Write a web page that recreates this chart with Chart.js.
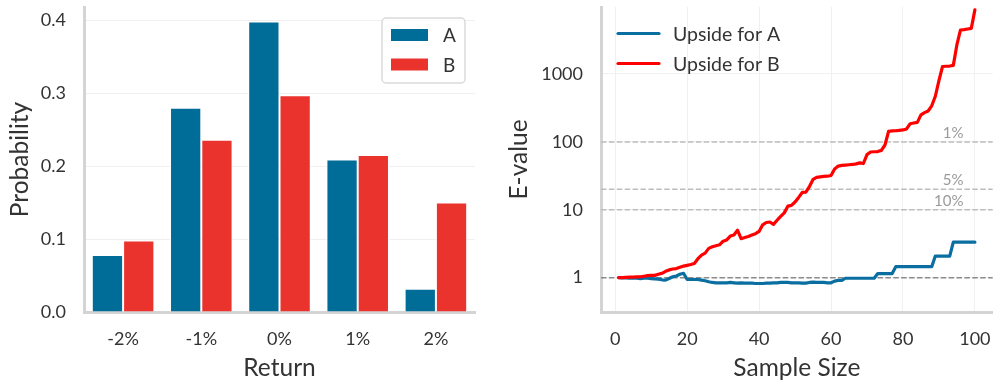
<!DOCTYPE html>
<html>
<head>
<meta charset="utf-8">
<script src="https://cdn.jsdelivr.net/npm/chart.js@4/dist/chart.umd.min.js"></script>
<style>
  html, body { margin: 0; padding: 0; background: #ffffff; }
  #wrap { position: relative; width: 1000px; height: 390px; }
  .box { position: absolute; top: 0; width: 500px; height: 390px; }
  #leftBox { left: 0; }
  #rightBox { left: 500px; }
</style>
</head>
<body>
<div id="wrap">
  <div class="box" id="leftBox"><canvas id="left" width="500" height="390"></canvas></div>
  <div class="box" id="rightBox"><canvas id="right" width="500" height="390"></canvas></div>
</div>
<script>
// ---------- Data: left panel (return distribution) ----------
const returnCategories = ['-2%', '-1%', '0%', '1%', '2%'];
const probA = [0.078, 0.280, 0.398, 0.209, 0.032];
const probB = [0.098, 0.236, 0.297, 0.215, 0.150];
const probTicks = [0.0, 0.1, 0.2, 0.3, 0.4];

// ---------- Data: right panel (e-values vs sample size) ----------
const sampleSize = [1,2,3,4,5,6,7,8,9,10,11,12,13,14,15,16,17,18,19,20,
  21,22,23,24,25,26,27,28,29,30,31,32,33,34,35,36,37,38,39,40,
  41,42,43,44,45,46,47,48,49,50,51,52,53,54,55,56,57,58,59,60,
  61,62,63,64,65,66,67,68,69,70,71,72,73,74,75,76,77,78,79,80,
  81,82,83,84,85,86,87,88,89,90,91,92,93,94,95,96,97,98,99,100];
const upsideA = [1.00,0.99,0.99,0.98,0.98,0.98,0.97,0.98,0.98,0.97,
  0.96,0.95,0.93,0.92,0.97,1.03,1.06,1.12,1.16,0.94,
  0.94,0.94,0.94,0.92,0.90,0.87,0.85,0.84,0.84,0.84,
  0.84,0.85,0.84,0.83,0.84,0.83,0.83,0.83,0.82,0.82,
  0.82,0.83,0.83,0.84,0.84,0.85,0.85,0.85,0.84,0.84,
  0.84,0.83,0.83,0.85,0.86,0.85,0.85,0.85,0.84,0.84,
  0.89,0.91,0.91,0.98,0.98,0.98,0.98,0.98,0.98,0.98,
  0.98,0.98,1.15,1.15,1.15,1.15,1.15,1.45,1.45,1.45,
  1.45,1.45,1.45,1.45,1.45,1.45,1.45,1.45,2.08,2.08,
  2.08,2.08,2.08,3.33,3.33,3.33,3.33,3.33,3.33,3.33];
const upsideB = [1.00,1.00,1.01,1.02,1.02,1.03,1.03,1.05,1.07,1.08,
  1.08,1.12,1.16,1.24,1.30,1.34,1.36,1.42,1.48,1.52,
  1.56,1.62,1.90,2.15,2.30,2.70,2.85,2.95,3.05,3.45,
  3.60,4.10,4.25,5.00,3.75,3.90,4.05,4.25,4.45,4.80,
  6.00,6.50,6.60,6.10,7.00,8.00,9.00,11.3,11.6,13.0,
  15.2,18.0,18.2,22.0,28.0,30.0,30.5,31.0,31.2,32.0,
  40.0,44.0,45.0,45.5,46.0,46.5,47.5,49.0,48.0,65.0,
  71.0,71.5,72.0,75.0,90.0,143,145,146,148,150,
  155,185,190,194,250,270,285,340,470,800,
  1290,1300,1310,1340,2700,4450,4500,4600,4700,8800];
const sampleTicks = [0, 20, 40, 60, 80, 100];
const evalueTicks = [1, 10, 100, 1000];
const neutralValue = 1;
const thresholdValues = [10, 20, 100];
const thresholdLabels = ['10%', '5%', '1%'];

// ---------- Styling ----------
const FONT = 'Lato, "Open Sans", "DejaVu Sans", sans-serif';
const TXT = '#333333';
const SPINE = '#d4d4d4';
const GRID = '#f0f0f0';
const BLUE_BAR = '#006d98';
const RED_BAR = '#eb332e';
const BLUE_LINE = '#0a6ea0';
const RED_LINE = '#ff0000';

Chart.defaults.font.family = FONT;
Chart.defaults.color = TXT;
Chart.defaults.animation = false;

function fixX(h) { return s => { s.height = h; s.paddingLeft = 0; s.paddingRight = 0; }; }
function fixY(w) { return s => { s.width = w; s.paddingTop = 0; s.paddingBottom = 0; }; }

// Custom legend for the bar chart (framed box, inside the plot)
const barLegend = {
  id: 'barLegend',
  afterDraw(chart) {
    const ctx = chart.ctx;
    ctx.save();
    const x = 382, y = 18, w = 83, h = 65, r = 4;
    ctx.beginPath();
    ctx.roundRect(x, y, w, h, r);
    ctx.fillStyle = 'rgba(255,255,255,0.85)';
    ctx.fill();
    ctx.lineWidth = 1.5;
    ctx.strokeStyle = '#dadada';
    ctx.stroke();
    chart.data.datasets.forEach((ds, i) => {
      const ry = 35 + i * 29.5;
      ctx.fillStyle = ds.backgroundColor;
      ctx.fillRect(391, ry - 6, 37, 12);
      ctx.fillStyle = TXT;
      ctx.font = '19px ' + FONT;
      ctx.textBaseline = 'middle';
      ctx.textAlign = 'left';
      ctx.fillText(ds.label, 443, ry + 1);
    });
    ctx.restore();
  }
};

// Custom legend for line chart (no frame)
const lineLegend = {
  id: 'lineLegend',
  afterDraw(chart) {
    const ctx = chart.ctx;
    ctx.save();
    chart.data.datasets.forEach((ds, i) => {
      const ry = 33.5 + i * 30;
      ctx.strokeStyle = ds.borderColor;
      ctx.lineWidth = 3.2;
      ctx.lineCap = 'round';
      ctx.beginPath();
      ctx.moveTo(118, ry);
      ctx.lineTo(159, ry);
      ctx.stroke();
      ctx.fillStyle = TXT;
      ctx.font = '19.5px ' + FONT;
      ctx.textBaseline = 'middle';
      ctx.textAlign = 'left';
      ctx.fillText(ds.label, 173, ry + 1.5);
    });
    ctx.restore();
  }
};

// Reference lines (neutral at 1, significance thresholds)
const refLines = {
  id: 'refLines',
  beforeDatasetsDraw(chart) {
    const ctx = chart.ctx;
    const ys = chart.scales.y;
    const area = chart.chartArea;
    ctx.save();
    ctx.lineWidth = 1.5;
    ctx.setLineDash([5.5, 2.4]);
    let py = ys.getPixelForValue(neutralValue);
    ctx.strokeStyle = '#8a8a8a';
    ctx.beginPath(); ctx.moveTo(area.left, py); ctx.lineTo(area.right, py); ctx.stroke();
    thresholdValues.forEach((v, i) => {
      const ty = ys.getPixelForValue(v);
      ctx.strokeStyle = '#bdbdbd';
      ctx.beginPath(); ctx.moveTo(area.left, ty); ctx.lineTo(area.right, ty); ctx.stroke();
      ctx.fillStyle = '#9a9a9a';
      ctx.font = '15px ' + FONT;
      ctx.textAlign = 'right';
      ctx.textBaseline = 'alphabetic';
      ctx.fillText(thresholdLabels[i], 463.5, ty - 4);
    });
    ctx.restore();
  }
};

// ---------- Left: bar chart ----------
new Chart(document.getElementById('left'), {
  type: 'bar',
  data: {
    labels: returnCategories,
    datasets: [
      { label: 'A', data: probA, backgroundColor: BLUE_BAR, borderColor: '#ffffff', borderWidth: 1, borderSkipped: 'bottom' },
      { label: 'B', data: probB, backgroundColor: RED_BAR, borderColor: '#ffffff', borderWidth: 1, borderSkipped: 'bottom' }
    ]
  },
  options: {
    responsive: false,
    layout: { padding: { top: 7, right: 25, left: 0, bottom: 0 } },
    datasets: { bar: { categoryPercentage: 0.8, barPercentage: 1.0 } },
    plugins: { legend: { display: false }, tooltip: { enabled: false } },
    scales: {
      x: {
        offset: true,
        grid: { display: false, drawTicks: false },
        border: { display: true, color: SPINE, width: 3 },
        ticks: { font: { size: 18 }, color: TXT, padding: 16 },
        title: { display: true, text: 'Return', font: { size: 24.5 }, color: TXT, padding: { top: 0, bottom: 7 } },
        afterFit: fixX(78)
      },
      y: {
        min: 0, max: 0.418, bounds: 'data',
        afterBuildTicks(s) { s.ticks = probTicks.map(v => ({ value: v })); },
        grid: { color: GRID, lineWidth: 1, drawTicks: false },
        border: { display: true, color: SPINE, width: 3 },
        ticks: { font: { size: 18 }, color: TXT, padding: 18, callback: v => v.toFixed(1) },
        title: { display: true, text: 'Probability', font: { size: 24.5 }, color: TXT, padding: { top: 5, bottom: 0 } },
        afterFit: fixY(84)
      }
    }
  },
  plugins: [barLegend]
});

// ---------- Right: e-value line chart ----------
new Chart(document.getElementById('right'), {
  type: 'line',
  data: {
    datasets: [
      { label: 'Upside for A', data: sampleSize.map((n, i) => ({ x: n, y: upsideA[i] })),
        borderColor: BLUE_LINE, backgroundColor: BLUE_LINE, borderWidth: 3.2, pointRadius: 0, tension: 0, order: 2,
        borderJoinStyle: 'round', borderCapStyle: 'round' },
      { label: 'Upside for B', data: sampleSize.map((n, i) => ({ x: n, y: upsideB[i] })),
        borderColor: RED_LINE, backgroundColor: RED_LINE, borderWidth: 3.2, pointRadius: 0, tension: 0, order: 1,
        borderJoinStyle: 'round', borderCapStyle: 'round' }
    ]
  },
  options: {
    responsive: false,
    layout: { padding: { top: 7, right: 7.3, left: 0, bottom: 0 } },
    plugins: { legend: { display: false }, tooltip: { enabled: false } },
    scales: {
      x: {
        type: 'linear', min: -3.95, max: 104.95, bounds: 'data',
        afterBuildTicks(s) { s.ticks = sampleTicks.map(v => ({ value: v })); },
        grid: { color: GRID, lineWidth: 1, drawTicks: false },
        border: { display: true, color: SPINE, width: 3 },
        ticks: { font: { size: 18 }, color: TXT, padding: 16 },
        title: { display: true, text: 'Sample Size', font: { size: 24.5 }, color: TXT, padding: { top: 0, bottom: 7 } },
        afterFit: fixX(78)
      },
      y: {
        type: 'logarithmic', min: 0.312, max: 9700, bounds: 'data',
        afterBuildTicks(s) { s.ticks = evalueTicks.map(v => ({ value: v })); },
        grid: { color: GRID, lineWidth: 1, drawTicks: false },
        border: { display: true, color: SPINE, width: 3 },
        ticks: { font: { size: 18 }, color: TXT, padding: 18, callback: v => String(v) },
        title: { display: true, text: 'E-value', font: { size: 24.5 }, color: TXT, padding: { top: 4, bottom: 0 } },
        afterFit: fixY(101)
      }
    }
  },
  plugins: [refLines, lineLegend]
});
</script>
</body>
</html>
